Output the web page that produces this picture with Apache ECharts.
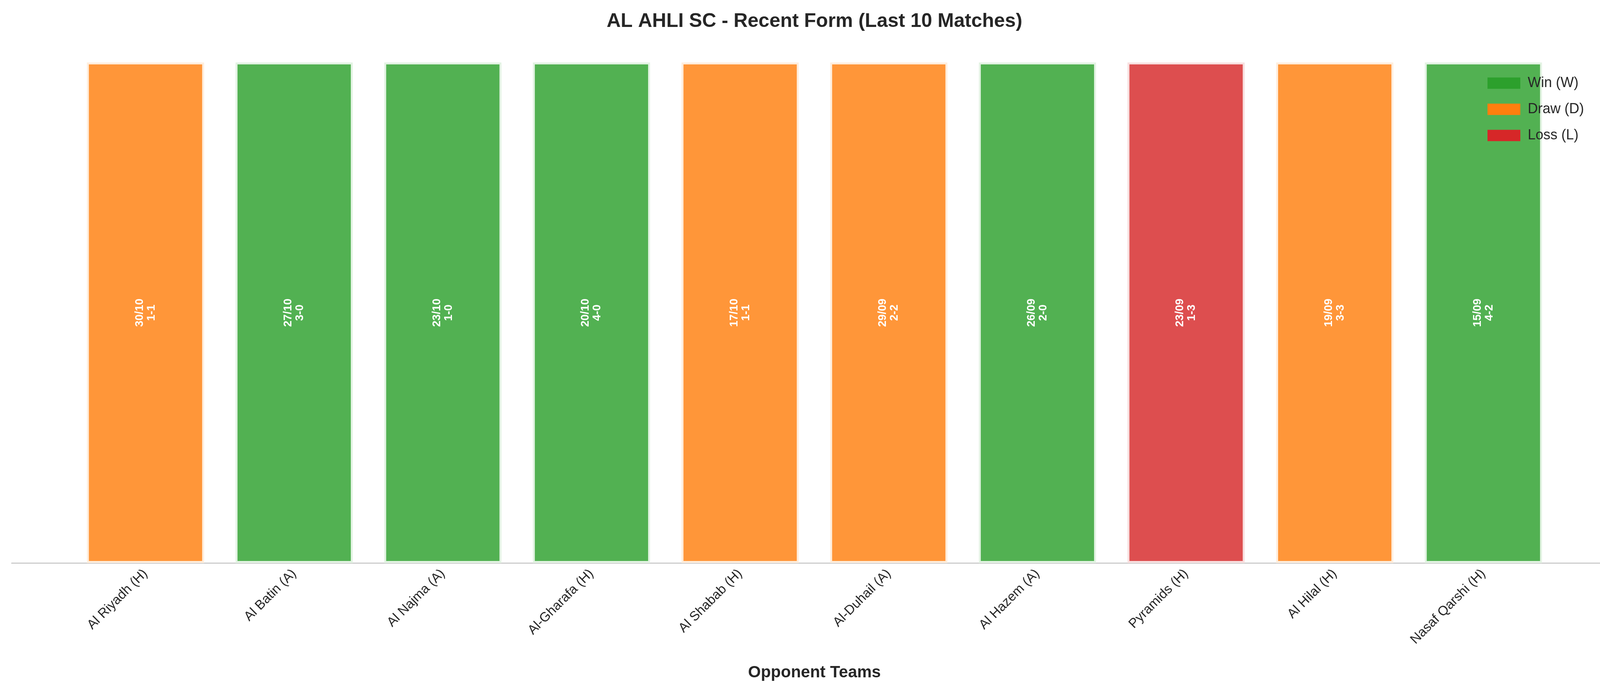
<!DOCTYPE html>
<html><head><meta charset="utf-8">
<script src="https://cdn.jsdelivr.net/npm/echarts@6/dist/echarts.min.js"></script>
<style>html,body{margin:0;padding:0;background:#fff}#c{width:4170px;height:1770px}</style>
</head><body><div id="c"></div>
<script>
const teams = ['Al Riyadh (H)','Al Batin (A)','Al Najma (A)','Al-Gharafa (H)','Al Shabab (H)','Al-Duhail (A)','Al Hazem (A)','Pyramids (H)','Al Hilal (H)','Nasaf Qarshi (H)'];
const dates = ['30/10','27/10','23/10','20/10','17/10','29/09','26/09','23/09','19/09','15/09'];
const scores = ['1-1','3-0','1-0','4-0','1-1','2-2','2-0','1-3','3-3','4-2'];
const results = ['D','W','W','W','D','D','W','L','D','W'];
const values = [1,1,1,1,1,1,1,1,1,1];

const fill = {W:'rgba(44,160,44,0.82)', D:'rgba(255,127,14,0.82)', L:'rgba(214,39,40,0.82)'};
const edge = {W:'#e3f3e3', D:'#ffeedd', L:'#f8e0e0'};
const solid = {W:'#2ca02c', D:'#ff7f0e', L:'#d62728'};
const names = {W:'Win (W)', D:'Draw (D)', L:'Loss (L)'};

const series = ['W','D','L'].map(r => ({
  name: names[r], type: 'bar', barWidth: 300, barGap: '-100%',
  itemStyle: {color: solid[r]},
  data: values.map((v,i) => results[i]===r ? {
    value:[i,v],
    itemStyle:{color:fill[r], borderColor:edge[r], borderWidth:5},
    label:{show:true, position:'inside', rotate:90, color:'#fff', fontWeight:'bold', fontSize:29, lineHeight:30,
      fontFamily:'Liberation Sans, Arial', formatter: dates[i]+'\n'+scores[i]}
  } : null).filter(d=>d)
}));

const chart = echarts.init(document.getElementById('c'));
chart.setOption({
  animation:false,
  title:{text:'AL AHLI SC - Recent Form (Last 10 Matches)', left:'center', top:25,
    textStyle:{fontSize:50, fontWeight:'bold', color:'#262626', fontFamily:'Liberation Sans, Arial'}},
  legend:{right:110, top:190, orient:'vertical', itemWidth:84, itemHeight:29, itemGap:31,
    icon:'rect', textStyle:{fontSize:36, color:'#262626', fontFamily:'Liberation Sans, Arial', padding:[0,0,0,14]},
    data:['Win (W)','Draw (D)','Loss (L)']},
  grid:{left:30, right:30, top:96, bottom:328, containLabel:false},
  xAxis:{type:'value', min:-0.9, max:9.9,
    name:'Opponent Teams', nameLocation:'middle', nameGap:260,
    nameTextStyle:{fontSize:42, fontWeight:'bold', color:'#262626', fontFamily:'Liberation Sans, Arial'},
    splitLine:{show:false},
    axisLine:{show:true, onZero:false, lineStyle:{color:'#cccccc', width:3}},
    axisTick:{show:false},
    axisLabel:{customValues:[0,1,2,3,4,5,6,7,8,9], rotate:45, fontSize:34, color:'#262626', margin:22,
      fontFamily:'Liberation Sans, Arial', formatter:v=>teams[Math.round(v)]}},
  yAxis:{type:'value', min:0, max:1.05, show:false, splitLine:{show:false}},
  series
});
</script></body></html>
